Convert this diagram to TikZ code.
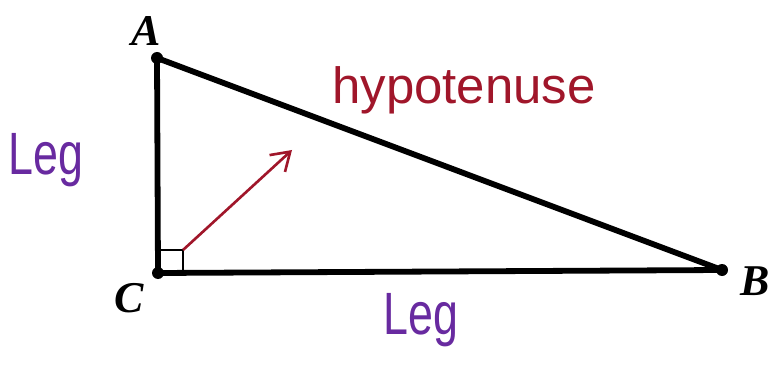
\documentclass[tikz,border=0pt]{standalone}
\usepackage{fontspec}
\setmainfont{Liberation Serif}
\newfontfamily\handfont{Liberation Sans}
\usetikzlibrary{arrows.meta, positioning}

\definecolor{hypred}{RGB}{160,22,42}
\definecolor{legpurple}{RGB}{104,42,160}

\begin{document}
\begin{tikzpicture}[x=0.02cm, y=-0.02cm]

\useasboundingbox (0,0) rectangle (770,378);

% triangle corners
\coordinate (A) at (157,58);
\coordinate (C) at (158,273);
\coordinate (B) at (722,270);

% sides
\draw[line width=3.3pt, line join=round] (A) -- (B) -- (C) -- cycle;

\foreach \p in {A,B,C} {
    \fill (\p) circle (6);
  }

% right angle
\draw[line width=1pt] (160,250) rectangle (183,271);

\node[font=\fontsize{25}{30}\selectfont\bfseries\itshape] (labA) at (146,31) {A};
\node[font=\fontsize{25}{30}\selectfont\bfseries\itshape] (labC) at (129,298) {C};
\node[font=\fontsize{25}{30}\selectfont\bfseries\itshape] (labB) at (755,281) {B};

\node[hypred, font=\handfont\fontsize{29}{34}\selectfont] (hyp) at (464,90) {hypotenuse};

\node[legpurple, xscale=0.75, transform shape, font=\handfont\fontsize{34}{40}\selectfont] (legL) at (46,160) {Leg};
\node[legpurple, xscale=0.75, transform shape, font=\handfont\fontsize{34}{40}\selectfont] (legB) at (421,320) {Leg};

% pointer
\coordinate (sq) at (183,250);
\coordinate (tip) at (292,150);
\draw[hypred, line width=1.5pt, -{Straight Barb[length=10pt, width=13pt]}] (sq) -- (tip);

\end{tikzpicture}
\end{document}
